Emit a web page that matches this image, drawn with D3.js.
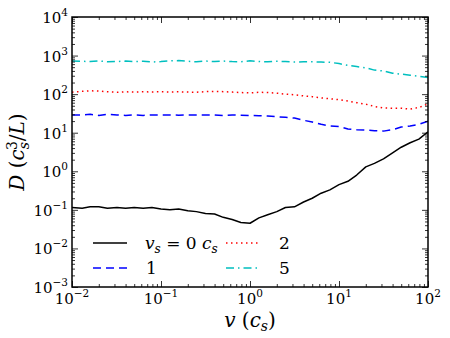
<!DOCTYPE html>
<html><head><meta charset="utf-8">
<script src="https://cdn.jsdelivr.net/npm/d3@7"></script>
<style>body{margin:0;background:#fff} svg{display:block}</style>
</head><body>
<svg id="c" width="450" height="338"></svg>
<script>
// speed v (c_s)
const vVals = [0.01,0.013,0.016,0.02,0.025,0.032,0.04,0.05,0.063,0.079,
  0.1,0.126,0.158,0.2,0.25,0.316,0.4,0.5,0.63,0.79,
  1.0,1.26,1.58,2.0,2.5,3.16,4.0,5.0,6.3,7.9,
  10,12.6,15.8,20,25,31.6,40,50,63,79,100];
// D for v_s = 0
const dVs0 = [0.115,0.11,0.12,0.12,0.11,0.115,0.11,0.115,0.11,0.115,
  0.105,0.1,0.105,0.095,0.09,0.08,0.078,0.064,0.056,0.047,
  0.045,0.062,0.075,0.09,0.115,0.12,0.16,0.2,0.27,0.33,
  0.45,0.55,0.8,1.3,1.6,2.1,3.0,4.2,5.5,6.8,10.5];
// D for v_s = 1
const dVs1 = [29,29,30,28,30,29,28,29,28,29,
  29,29,28.5,29,29,29,29,28,29,28.5,
  28,27.5,27,26,25,24,21,19,16.5,15,
  14.5,12.5,12,11.8,11.3,11,12,14,15,16.5,20];
// D for v_s = 2
const dVs2 = [112,118,122,120,115,112,115,113,115,114,
  115,114,115,113,112,116,118,116,113,110,
  108,112,110,106,100,96,90,86,80,76,
  72,66,60,55,48,44,43,43,41,45,56];
// D for v_s = 5
const dVs5 = [720,710,700,730,690,700,720,700,710,680,
  700,730,740,710,690,720,700,720,700,690,
  730,700,690,710,700,680,690,690,680,670,
  620,560,520,480,420,400,350,330,310,290,270];

const seriesNames = ["v_s = 0 c_s","1","2","5"];
const seriesColors = ["#000000","#0000ff","#ff0000","#00bfbf"];
const seriesDash = [null,"8,5","1.5,3.5","8,4,1.5,4"];
const seriesData = [dVs0,dVs1,dVs2,dVs5];

const xDecades = [-2,-1,0,1,2];
const yDecades = [-3,-2,-1,0,1,2,3,4];

const W=450,H=338, m={l:72,r:22,t:17,b:51};
const svg = d3.select("#c");
const x = d3.scaleLog().domain([1e-2,1e2]).range([m.l, W-m.r]);
const y = d3.scaleLog().domain([1e-3,1e4]).range([H-m.b, m.t]);

function minors(decs){const out=[];for(let i=0;i<decs.length-1;i++){for(let k=2;k<=9;k++)out.push(k*Math.pow(10,decs[i]));}return out;}
const xMaj = xDecades.map(p=>Math.pow(10,p)), yMaj = yDecades.map(p=>Math.pow(10,p));
const xMin = minors(xDecades), yMin = minors(yDecades);

// lines
const clip = svg.append("clipPath").attr("id","cp").append("rect")
  .attr("x",m.l).attr("y",m.t).attr("width",W-m.l-m.r).attr("height",H-m.t-m.b);
const line = d3.line().x((d,i)=>x(vVals[i])).y(d=>y(d));
const g = svg.append("g").attr("clip-path","url(#cp)");
seriesData.forEach((s,i)=>{
  g.append("path").attr("d",line(s)).attr("fill","none")
    .attr("stroke",seriesColors[i]).attr("stroke-width",1.5)
    .attr("stroke-dasharray",seriesDash[i]).attr("stroke-linejoin","round");
});

// axes ticks (inward, all sides)
function ax(gen, scale, vals, size, tr){
  const a = svg.append("g").attr("transform",tr)
    .call(gen(scale).tickValues(vals).tickSize(-size).tickFormat(""));
  a.select(".domain").remove();
  a.selectAll("line").attr("stroke","#000").attr("stroke-width",0.8);
}
const bottom = H-m.b, right = W-m.r;
[[xMaj,6],[xMin,3]].forEach(([v,s])=>{
  ax(d3.axisBottom,x,v,s,`translate(0,${bottom})`);
  ax(d3.axisTop,x,v,s,`translate(0,${m.t})`);
});
[[yMaj,6],[yMin,3]].forEach(([v,s])=>{
  ax(d3.axisLeft,y,v,s,`translate(${m.l},0)`);
  ax(d3.axisRight,y,v,s,`translate(${right},0)`);
});

// frame
svg.append("rect").attr("x",m.l).attr("y",m.t).attr("width",W-m.l-m.r).attr("height",H-m.t-m.b)
  .attr("fill","none").attr("stroke","#000").attr("stroke-width",1.5);

const FONT = "'DejaVu Serif', serif";
function pow10(sel, p){
  sel.append("tspan").text("10");
  sel.append("tspan").attr("dy",-7).attr("font-size",10.5).text(p<0?"\u2212"+(-p):String(p));
}
// x labels
xDecades.forEach(p=>{
  const t = svg.append("text").attr("x",x(Math.pow(10,p))).attr("y",bottom+17)
    .attr("text-anchor","middle").attr("font-family",FONT).attr("font-size",15).attr("fill","#000");
  pow10(t,p);
});
// y labels
yDecades.forEach(p=>{
  const t = svg.append("text").attr("x",m.l-4).attr("y",y(Math.pow(10,p))+6)
    .attr("text-anchor","end").attr("font-family",FONT).attr("font-size",15).attr("fill","#000");
  pow10(t,p);
});

// axis titles
const xt = svg.append("text").attr("x",(m.l+right)/2).attr("y",327).attr("text-anchor","middle")
  .attr("font-family",FONT).attr("font-size",20).attr("fill","#000");
xt.append("tspan").attr("font-style","italic").text("v");
xt.append("tspan").text(" (");
xt.append("tspan").attr("font-style","italic").text("c");
xt.append("tspan").attr("font-style","italic").attr("font-size",14).attr("dy",4).text("s");
xt.append("tspan").attr("dy",-4).text(")");

const yt = svg.append("text").attr("transform",`translate(24,${(m.t+bottom)/2}) rotate(-90)`)
  .attr("text-anchor","middle").attr("font-family",FONT).attr("font-size",20).attr("fill","#000");
yt.append("tspan").attr("font-style","italic").text("D");
yt.append("tspan").text(" (");
yt.append("tspan").attr("font-style","italic").text("c");
yt.append("tspan").attr("font-style","italic").attr("font-size",14).attr("dy",5).text("s");
yt.append("tspan").attr("font-size",14).attr("dx",-8).attr("dy",-12).text("3");
yt.append("tspan").attr("dy",7).text("/");
yt.append("tspan").attr("font-style","italic").text("L");
yt.append("tspan").text(")");

// legend
const legPos = [[93,243],[93,268],[226,243],[226,268]];
seriesNames.forEach((n,i)=>{
  const [lx,ly] = legPos[i];
  svg.append("line").attr("x1",lx).attr("x2",lx+34).attr("y1",ly).attr("y2",ly)
    .attr("stroke",seriesColors[i]).attr("stroke-width",1.5).attr("stroke-dasharray",seriesDash[i]);
  const t = svg.append("text").attr("x",lx+(i===0?52:53)).attr("y",ly+6)
    .attr("font-family",FONT).attr("font-size",17).attr("fill","#000");
  if(i===0){
    t.append("tspan").attr("font-style","italic").text("v");
    t.append("tspan").attr("font-style","italic").attr("font-size",12).attr("dy",4).text("s");
    t.append("tspan").attr("dy",-4).text(" = 0 ");
    t.append("tspan").attr("font-style","italic").text("c");
    t.append("tspan").attr("font-style","italic").attr("font-size",12).attr("dy",4).text("s");
  } else t.text(n);
});
</script>
</body></html>
